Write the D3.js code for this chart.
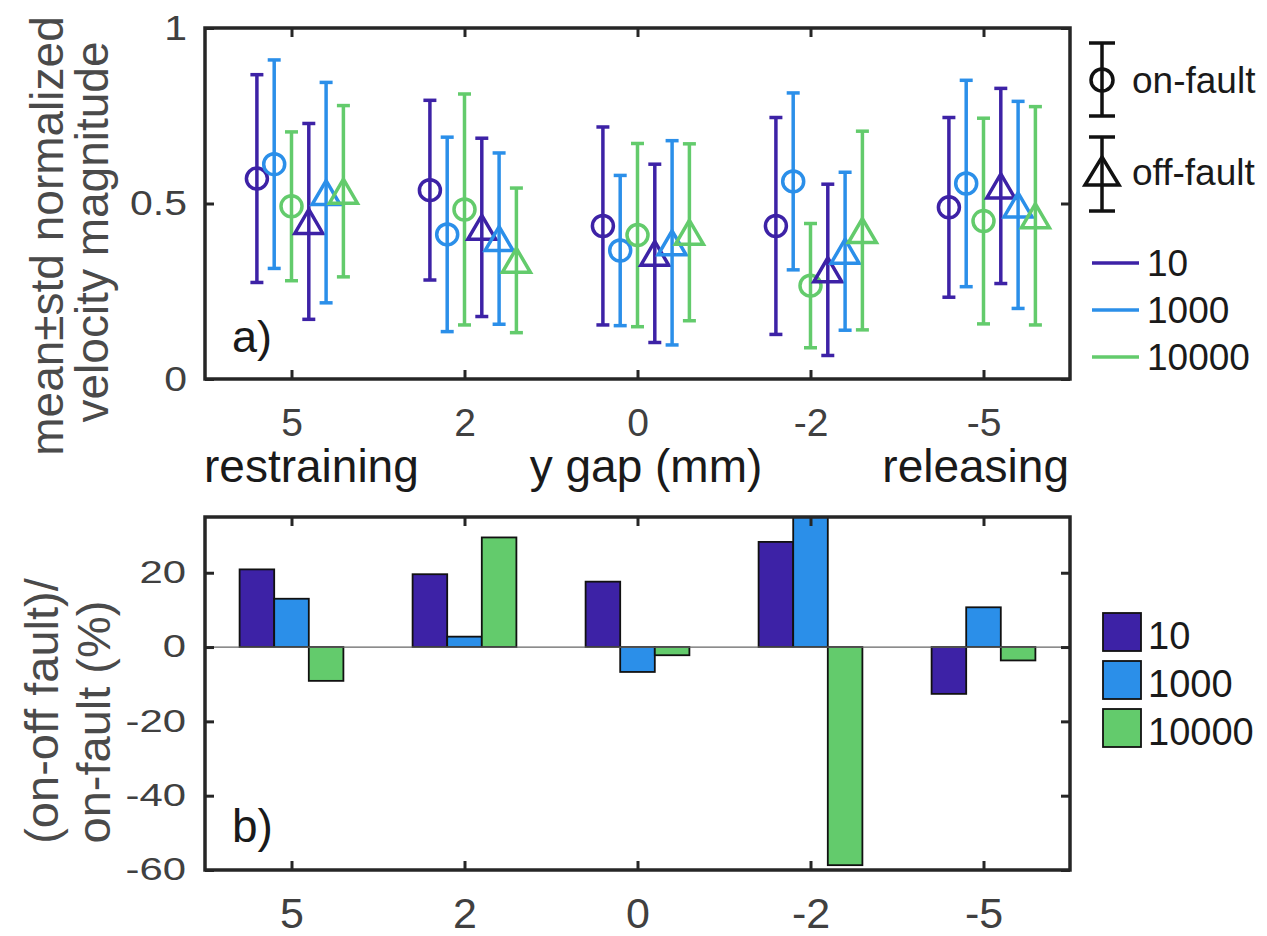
<!DOCTYPE html>
<html>
<head>
<meta charset="utf-8">
<script src="https://cdn.jsdelivr.net/npm/d3@7"></script>
<style>
  html, body { margin: 0; padding: 0; background: #fff; }
  svg { display: block; font-family: "Liberation Sans", Arial, Helvetica, sans-serif; }
</style>
</head>
<body>
<svg id="chart" width="1267" height="936"></svg>
<script>
// ---------------- data ----------------
const categories = ["5", "2", "0", "-2", "-5"];
const seriesNames = ["10", "1000", "10000"];
const seriesColors = ["#3D22A6", "#2B8FE9", "#63CB6C"];

// panel a) on-fault mean and std, one array per series
const onMean10    = [0.571, 0.538, 0.436, 0.436, 0.489];
const onStd10     = [0.296, 0.256, 0.282, 0.309, 0.256];
const onMean1000  = [0.612, 0.412, 0.366, 0.563, 0.557];
const onStd1000   = [0.297, 0.277, 0.214, 0.252, 0.294];
const onMean10000 = [0.492, 0.483, 0.410, 0.266, 0.450];
const onStd10000  = [0.212, 0.329, 0.261, 0.177, 0.293];

// panel a) off-fault mean and std
const offMean10    = [0.449, 0.432, 0.358, 0.311, 0.550];
const offStd10     = [0.279, 0.254, 0.254, 0.244, 0.278];
const offMean1000  = [0.531, 0.400, 0.388, 0.364, 0.496];
const offStd1000   = [0.314, 0.244, 0.291, 0.225, 0.295];
const offMean10000 = [0.535, 0.338, 0.418, 0.423, 0.465];
const offStd10000  = [0.244, 0.206, 0.252, 0.283, 0.311];

// panel b) (on-off)/on in %
const diff10    = [20.9, 19.6, 17.6, 28.3, -12.6];
const diff1000  = [13.0, 2.8, -6.7, 35.0, 10.7];
const diff10000 = [-9.1, 29.5, -2.2, -58.7, -3.6];

const topYTicks = [0, 0.5, 1];
const topYTickLabels = ["0", "0.5", "1"];
const botYTicks = [-60, -40, -20, 0, 20];
const botYTickLabels = ["-60", "-40", "-20", "0", "20"];

const onMeans = [onMean10, onMean1000, onMean10000];
const onStds = [onStd10, onStd1000, onStd10000];
const offMeans = [offMean10, offMean1000, offMean10000];
const offStds = [offStd10, offStd1000, offStd10000];
const diffs = [diff10, diff1000, diff10000];

// ---------------- layout ----------------
const svg = d3.select("#chart");
const FONT = '"Liberation Sans", Arial, Helvetica, sans-serif';
const axisColor = "#262626";
const tickTextColor = "#404040";

const x = d3.scaleLinear().domain([0.5, 5.5]).range([205, 1070]);
const catIdx = categories.map((c, i) => i + 1);

const yTop = d3.scaleLinear().domain([0, 1]).range([379, 28]);
const yBot = d3.scaleLinear().domain([-60, 35]).range([870, 517]);

function styleAxis(g) {
  g.select(".domain").remove();
  g.selectAll(".tick line").attr("stroke", axisColor).attr("stroke-width", 3);
  g.selectAll(".tick text").attr("fill", tickTextColor).attr("font-family", FONT);
}

function box(yScale) {
  const [y0, y1] = yScale.range();
  const [x0, x1] = x.range();
  // mirrored ticks on top and right
  svg.append("g").attr("transform", `translate(0,${y1})`)
    .call(d3.axisTop(x).tickValues(catIdx).tickSize(-9).tickFormat(""))
    .call(styleAxis);
  svg.append("g").attr("transform", `translate(${x1},0)`)
    .call(d3.axisRight(yScale).tickValues(yScale === yTop ? topYTicks : botYTicks).tickSize(-9).tickFormat(""))
    .call(styleAxis);
  svg.append("rect")
    .attr("x", x0).attr("y", y1).attr("width", x1 - x0).attr("height", y0 - y1)
    .attr("fill", "none").attr("stroke", axisColor).attr("stroke-width", 3.5);
}

// ---------------- panel a ----------------
// x axis
svg.append("g").attr("transform", `translate(0,${yTop(0)})`)
  .call(d3.axisBottom(x).tickValues(catIdx).tickSize(-9).tickPadding(29)
        .tickFormat(d => categories[d - 1]))
  .call(styleAxis)
  .call(g => g.selectAll(".tick text").attr("font-size", 39));

// y axis
svg.append("g").attr("transform", `translate(${x.range()[0]},0)`)
  .call(d3.axisLeft(yTop).tickValues(topYTicks).tickSize(-9).tickPadding(18)
        .tickFormat((d, i) => topYTickLabels[i]))
  .call(styleAxis)
  .call(g => g.selectAll(".tick text").attr("font-size", 35)
        .attr("transform", "scale(1.17,1)").attr("x", -18 / 1.17));

box(yTop);

// error bars
const capHalf = 6.5;
const triW = 28, triH = 24;
function triPath(cx, cy, w, h) {
  return `M${cx},${cy - h / 2}L${cx + w / 2},${cy + h / 2}L${cx - w / 2},${cy + h / 2}Z`;
}

const marks = svg.append("g");
[0, 1].forEach(type => {
  seriesNames.forEach((s, si) => {
    const means = type === 0 ? onMeans[si] : offMeans[si];
    const stds = type === 0 ? onStds[si] : offStds[si];
    const col = seriesColors[si];
    const off = (type * 3 + si - 2) * 0.1;
    const g = marks.append("g");
    means.forEach((m, ci) => {
      const cx = x(ci + 1 + off);
      const yHi = yTop(m + stds[ci]), yLo = yTop(m - stds[ci]), cy = yTop(m);
      g.append("line").attr("x1", cx).attr("x2", cx).attr("y1", yHi).attr("y2", yLo)
        .attr("stroke", col).attr("stroke-width", 3.5);
      g.append("line").attr("x1", cx - capHalf).attr("x2", cx + capHalf).attr("y1", yHi).attr("y2", yHi)
        .attr("stroke", col).attr("stroke-width", 3.5);
      g.append("line").attr("x1", cx - capHalf).attr("x2", cx + capHalf).attr("y1", yLo).attr("y2", yLo)
        .attr("stroke", col).attr("stroke-width", 3.5);
      if (type === 0) {
        g.append("circle").attr("cx", cx).attr("cy", cy).attr("r", 10.5)
          .attr("fill", "none").attr("stroke", col).attr("stroke-width", 3.5);
      } else {
        g.append("path").attr("d", triPath(cx, cy, triW, triH))
          .attr("fill", "none").attr("stroke", col).attr("stroke-width", 3.5)
          .attr("stroke-linejoin", "miter");
      }
    });
  });
});

// label a)
svg.append("text").attr("x", 232).attr("y", 352).attr("font-size", 45)
  .attr("font-family", FONT).attr("fill", "#1a1a1a").text("a)");

// x axis words
svg.append("text").attr("x", 204).attr("y", 482).attr("font-size", 46)
  .attr("font-family", FONT).attr("fill", "#1a1a1a").text("restraining");
svg.append("text").attr("x", 646).attr("y", 482).attr("font-size", 46).attr("text-anchor", "middle")
  .attr("font-family", FONT).attr("fill", "#1a1a1a").text("y gap (mm)");
svg.append("text").attr("x", 1069).attr("y", 482).attr("font-size", 46).attr("text-anchor", "end")
  .attr("font-family", FONT).attr("fill", "#1a1a1a").text("releasing");

// y title panel a
svg.append("text").attr("transform", "translate(63,236) rotate(-90)")
  .attr("text-anchor", "middle").attr("font-size", 46).attr("font-family", FONT)
  .attr("fill", "#4a4a4a").text("mean±std normalized");
svg.append("text").attr("transform", "translate(108,232) rotate(-90)")
  .attr("text-anchor", "middle").attr("font-size", 46).attr("font-family", FONT)
  .attr("fill", "#4a4a4a").text("velocity magnitude");

// legend panel a: marker types
const lgx = 1102;
function legendErr(yCapTop, yCapBot, yMark, isTri, label, textY) {
  const g = svg.append("g");
  g.append("line").attr("x1", lgx).attr("x2", lgx).attr("y1", yCapTop).attr("y2", yCapBot)
    .attr("stroke", "#111").attr("stroke-width", 3.5);
  [yCapTop, yCapBot].forEach(yy => g.append("line").attr("x1", lgx - 13).attr("x2", lgx + 13)
    .attr("y1", yy).attr("y2", yy).attr("stroke", "#111").attr("stroke-width", 3.5));
  if (isTri) {
    g.append("path").attr("d", triPath(lgx, yMark, 34, 28)).attr("fill", "none")
      .attr("stroke", "#111").attr("stroke-width", 3.5);
  } else {
    g.append("circle").attr("cx", lgx).attr("cy", yMark).attr("r", 11).attr("fill", "none")
      .attr("stroke", "#111").attr("stroke-width", 3.5);
  }
  g.append("text").attr("x", 1132).attr("y", textY).attr("font-size", 37)
    .attr("font-family", FONT).attr("fill", "#1a1a1a").text(label);
}
legendErr(43, 116, 80, false, "on-fault", 93);
legendErr(137, 211, 171, true, "off-fault", 185);

// legend panel a: series lines
const lineYs = [263, 310, 357];
seriesNames.forEach((s, i) => {
  svg.append("line").attr("x1", 1092).attr("x2", 1139).attr("y1", lineYs[i]).attr("y2", lineYs[i])
    .attr("stroke", seriesColors[i]).attr("stroke-width", 3.5);
  svg.append("text").attr("x", 1147).attr("y", lineYs[i] + 13).attr("font-size", 37)
    .attr("font-family", FONT).attr("fill", "#1a1a1a").text(s);
});

// ---------------- panel b ----------------
svg.append("defs").append("clipPath").attr("id", "clipB")
  .append("rect").attr("x", x.range()[0]).attr("y", yBot.range()[1])
  .attr("width", x.range()[1] - x.range()[0]).attr("height", yBot.range()[0] - yBot.range()[1]);

const bars = svg.append("g").attr("clip-path", "url(#clipB)");
seriesNames.forEach((s, si) => {
  bars.selectAll(null).data(diffs[si]).enter().append("rect")
    .attr("x", (d, ci) => x(ci + 1 + (si - 1) * 0.2 - 0.1))
    .attr("width", x(0.7) - x(0.5))
    .attr("y", d => yBot(Math.max(0, d)))
    .attr("height", d => Math.abs(yBot(d) - yBot(0)))
    .attr("fill", seriesColors[si]).attr("stroke", "#111").attr("stroke-width", 1.8);
});

// zero line
svg.append("line").attr("x1", x.range()[0]).attr("x2", x.range()[1])
  .attr("y1", yBot(0)).attr("y2", yBot(0)).attr("stroke", "#666").attr("stroke-width", 1.2);

svg.append("g").attr("transform", `translate(0,${yBot(-60)})`)
  .call(d3.axisBottom(x).tickValues(catIdx).tickSize(-9).tickPadding(27)
        .tickFormat(d => categories[d - 1]))
  .call(styleAxis)
  .call(g => g.selectAll(".tick text").attr("font-size", 43));

svg.append("g").attr("transform", `translate(${x.range()[0]},0)`)
  .call(d3.axisLeft(yBot).tickValues(botYTicks).tickSize(-9).tickPadding(19)
        .tickFormat((d, i) => botYTickLabels[i]))
  .call(styleAxis)
  .call(g => g.selectAll(".tick text").attr("font-size", 31)
        .attr("transform", "scale(1.35,1)").attr("x", -19 / 1.35));

box(yBot);

svg.append("text").attr("x", 232).attr("y", 842).attr("font-size", 46)
  .attr("font-family", FONT).attr("fill", "#1a1a1a").text("b)");

// y title panel b
svg.append("text").attr("transform", "translate(58,711) rotate(-90)")
  .attr("text-anchor", "middle").attr("font-size", 47).attr("font-family", FONT)
  .attr("fill", "#4a4a4a").text("(on-off fault)/");
svg.append("text").attr("transform", "translate(110,722) rotate(-90)")
  .attr("text-anchor", "middle").attr("font-size", 47).attr("font-family", FONT)
  .attr("fill", "#4a4a4a").text("on-fault (%)");

// legend panel b
const sqYs = [613, 661, 709];
seriesNames.forEach((s, i) => {
  svg.append("rect").attr("x", 1103).attr("y", sqYs[i]).attr("width", 38).attr("height", 38)
    .attr("fill", seriesColors[i]).attr("stroke", "#111").attr("stroke-width", 1.8);
  svg.append("text").attr("x", 1148).attr("y", sqYs[i] + 36).attr("font-size", 38)
    .attr("font-family", FONT).attr("fill", "#1a1a1a").text(s);
});
</script>
</body>
</html>
